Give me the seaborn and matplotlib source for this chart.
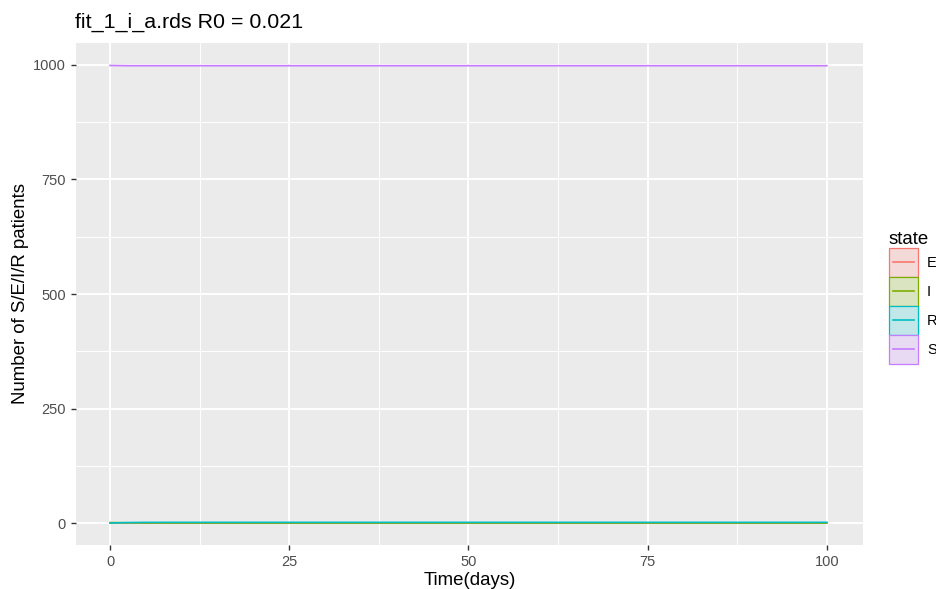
import numpy as np
import pandas as pd
import matplotlib
matplotlib.use("Agg")
import matplotlib.pyplot as plt
import seaborn as sns
from matplotlib.patches import Rectangle
from matplotlib.lines import Line2D

# Values
days = [0, 1, 2, 3, 5, 10, 20, 30, 40, 50, 60, 70, 80, 90, 100]
S_vals = [999, 998.8, 998.6, 998.5, 998.5, 998.5, 998.5, 998.5, 998.5, 998.5, 998.5, 998.5, 998.5, 998.5, 998.5]
E_vals = [0, 0.3, 0.2, 0.1, 0.05, 0, 0, 0, 0, 0, 0, 0, 0, 0, 0]
I_vals = [1, 0.8, 0.6, 0.4, 0.2, 0.05, 0, 0, 0, 0, 0, 0, 0, 0, 0]
R_vals = [0, 0.4, 0.8, 1.1, 1.4, 1.5, 1.5, 1.5, 1.5, 1.5, 1.5, 1.5, 1.5, 1.5, 1.5]
states = ["E", "I", "R", "S"]
colors = ["#F8766D", "#7CAE00", "#00BFC4", "#C77CFF"]

df = pd.concat([
    pd.DataFrame({"time": days, "value": E_vals, "state": "E"}),
    pd.DataFrame({"time": days, "value": I_vals, "state": "I"}),
    pd.DataFrame({"time": days, "value": R_vals, "state": "R"}),
    pd.DataFrame({"time": days, "value": S_vals, "state": "S"}),
])


class KeyHandler:
    # ggplot-like legend key: tinted box with outline and a centred line
    def legend_artist(self, legend, orig_handle, fontsize, handlebox):
        x0, y0 = -handlebox.xdescent, -handlebox.ydescent
        w, h = handlebox.width, handlebox.height
        c = orig_handle.get_color()
        tr = handlebox.get_transform()
        bg = Rectangle((x0, y0), w, h, facecolor="#F2F2F2", edgecolor="none", transform=tr)
        fill = Rectangle((x0, y0), w, h, facecolor=c, alpha=0.2, edgecolor="none", transform=tr)
        edge = Rectangle((x0, y0), w, h, facecolor="none", edgecolor=c, lw=0.9, transform=tr)
        line = Line2D([x0 + w * 0.14, x0 + w * 0.86], [y0 + h / 2] * 2, color=c,
                      lw=1.2, transform=tr)
        for a in (bg, fill, edge, line):
            handlebox.add_artist(a)
        return line


plt.rcParams["font.family"] = ["Liberation Sans", "DejaVu Sans"]
fig = plt.figure(figsize=(9.36, 5.89), dpi=100)
ax = fig.add_axes([76 / 936, 1 - 545 / 589, (863 - 76) / 936, (545 - 43) / 589])
ax.set_facecolor("#EBEBEB")

palette = dict(zip(states, colors))
sns.lineplot(data=df, x="time", y="value", hue="state", hue_order=states,
             palette=palette, linewidth=1.2, ax=ax, legend=False, zorder=3)

# thin ribbons around each curve
for st in states:
    sub = df[df.state == st]
    ax.fill_between(sub.time, sub.value - 0.3, sub.value + 0.3,
                    color=palette[st], alpha=0.2, lw=0, zorder=2)

ax.set_xlim(-4.75, 105.05)
ax.set_ylim(-48, 1048)
ax.set_xticks([0, 25, 50, 75, 100])
ax.set_yticks([0, 250, 500, 750, 1000])
ax.set_xticks([12.5, 37.5, 62.5, 87.5], minor=True)
ax.set_yticks([125, 375, 625, 875], minor=True)
ax.grid(which="major", color="white", linewidth=1.4, zorder=0)
ax.grid(which="minor", color="white", linewidth=0.7, zorder=0)
ax.set_axisbelow(True)
for s in ax.spines.values():
    s.set_visible(False)
ax.tick_params(which="major", length=3.5, color="#333333", labelsize=10.5,
               labelcolor="#4D4D4D", width=1.0, pad=4)
ax.tick_params(which="minor", length=0)

ax.set_xlabel("Time(days)", fontsize=13.4, labelpad=2)
ax.set_ylabel("Number of S/E/I/R patients", fontsize=13.4, labelpad=3)
ax.set_title("fit_1_i_a.rds R0 = 0.021", fontsize=15.4, loc="left", x=-0.001, pad=11)

handles = [Line2D([0], [0], color=palette[st]) for st in states]
leg = fig.legend(handles, states, title="state", loc="upper left",
                 bbox_to_anchor=(889 / 936, 1 - 231 / 589), frameon=False,
                 handler_map={Line2D: KeyHandler()},
                 handlelength=2.0, handleheight=2.68, labelspacing=0.0,
                 handletextpad=0.6, fontsize=10.5, title_fontsize=13.4,
                 borderpad=0, borderaxespad=0)
leg._legend_box.align = "left"

fig.savefig("out.png", dpi=100, facecolor="white")
